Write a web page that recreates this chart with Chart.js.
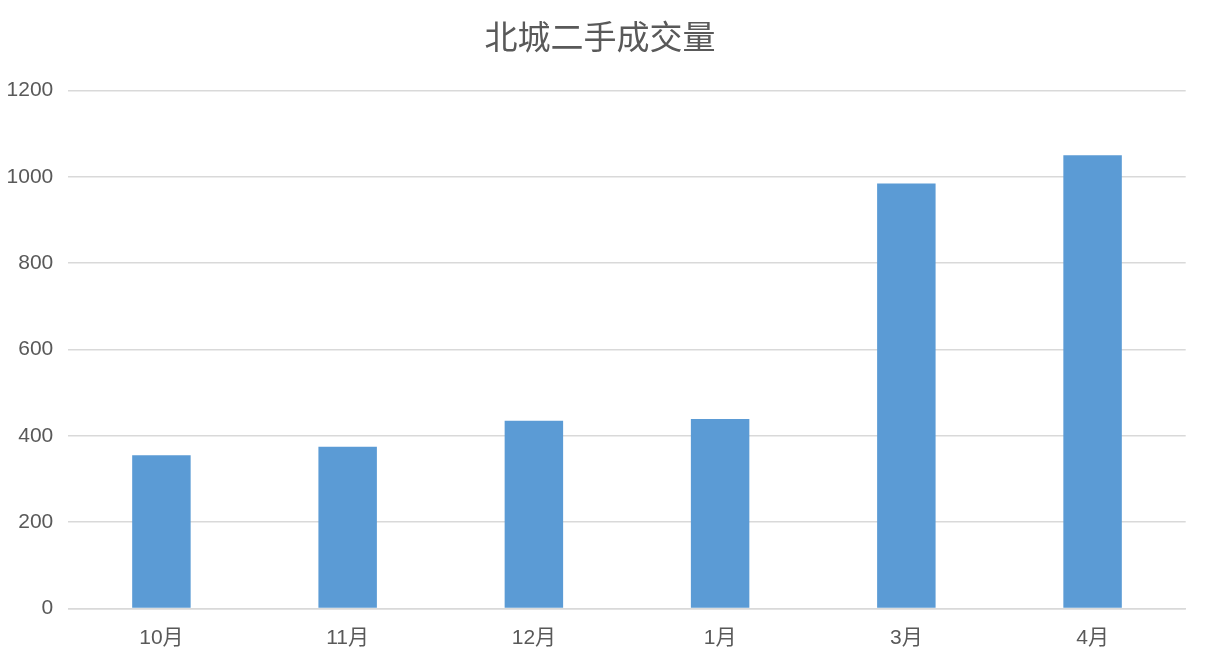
<!DOCTYPE html>
<html>
<head>
<meta charset="utf-8">
<script src="https://cdn.jsdelivr.net/npm/chart.js@4/dist/chart.umd.min.js"></script>
<style>
html,body{margin:0;padding:0;background:#fff;}
#wrap{width:1208px;height:666px;position:relative;}
</style>
</head>
<body>
<div id="wrap"><canvas id="c" width="1208" height="666"></canvas></div>
<script>
const chartTitle = "北城二手成交量";
const categories = ["10月", "11月", "12月", "1月", "3月", "4月"];
const volumes = [355, 375, 435, 439, 985, 1050];
const yTicks = [0, 200, 400, 600, 800, 1000, 1200];

const FONT = "'Liberation Sans', 'Noto Sans CJK SC', sans-serif";

new Chart(document.getElementById('c'), {
  type: 'bar',
  data: {
    labels: categories,
    datasets: [{
      label: chartTitle,
      data: volumes,
      backgroundColor: '#5b9bd5',
      borderWidth: 0,
      barPercentage: 0.314,
      categoryPercentage: 1.0
    }]
  },
  options: {
    responsive: false,
    animation: false,
    devicePixelRatio: 1,
    layout: { padding: { left: 0, right: 8, top: 0, bottom: 0 } },
    plugins: {
      legend: { display: false },
      tooltip: { enabled: false },
      title: {
        display: true,
        text: chartTitle,
        color: '#595959',
        font: { family: "'Noto Sans CJK SC', sans-serif", size: 33, weight: 'normal' },
        padding: { top: 17, bottom: 34 }
      }
    },
    scales: {
      x: {
        grid: { display: false, drawTicks: false },
        border: { display: true, color: '#d9d9d9', width: 1.5 },
        ticks: {
          color: '#595959',
          font: { family: FONT, size: 21 },
          padding: 17
        },
        afterFit(scale) { scale.height = 57.5; }
      },
      y: {
        min: 0,
        max: 1200,
        afterBuildTicks(scale) { scale.ticks = yTicks.map(v => ({ value: v })); },
        grid: { color: '#d9d9d9', lineWidth: 1.5, drawTicks: false },
        border: { display: false },
        ticks: {
          color: '#595959',
          font: { family: FONT, size: 21 },
          padding: 15,
          callback: (v) => String(v)
        },
        afterFit(scale) { scale.width = 68.3; }
      },
      yRight: {
        type: 'linear',
        position: 'right',
        display: true,
        min: 0,
        max: 1200,
        grid: { display: false, drawTicks: false },
        border: { display: false },
        ticks: { display: false },
        afterFit(scale) { scale.width = 14.3; }
      }
    }
  }
});
</script>
</body>
</html>
